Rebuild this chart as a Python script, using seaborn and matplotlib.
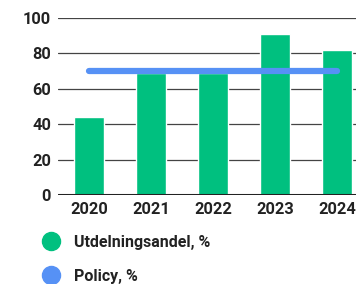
import matplotlib
matplotlib.use('Agg')
import matplotlib.pyplot as plt
import seaborn as sns
import pandas as pd
from matplotlib.lines import Line2D

# data
years = ['2020', '2021', '2022', '2023', '2024']
utdelningsandel = [44, 69, 69, 91, 82]
policy = [70, 70, 70, 70, 70]

green = '#00C07F'
blue = '#5691F5'
text_color = '#222222'

sns.set_theme(style='white')
plt.rcParams['font.family'] = ['Roboto', 'DejaVu Sans']

df = pd.DataFrame({'year': years, 'andel': utdelningsandel, 'policy': policy})

fig = plt.figure(figsize=(3.56, 2.84), dpi=100)
ax = fig.add_axes([58 / 356, (284 - 195) / 284, 298 / 356, 177 / 284])

# grid
for v in [20, 40, 60, 80, 100]:
    ax.axhline(v, color='#444444', lw=0.9, zorder=0)

sns.barplot(data=df, x='year', y='andel', color=green, width=0.48,
            saturation=1, ax=ax, zorder=2)

ax.plot(range(len(years)), df['policy'], color=blue, lw=4.5,
        solid_capstyle='round', zorder=3)

ax.axhline(0, color='#222222', lw=2.2, zorder=4)

ax.set_ylim(0, 100)
ax.set_xlim(-0.5, 4.5 - 12 / 62)
ax.set_yticks([0, 20, 40, 60, 80, 100])
ax.set_xlabel('')
ax.set_ylabel('')
for s in ax.spines.values():
    s.set_visible(False)
ax.tick_params(axis='both', length=0, labelsize=11.8, colors=text_color)
ax.tick_params(axis='y', pad=5)
ax.tick_params(axis='x', pad=5)
for lbl in ax.get_xticklabels() + ax.get_yticklabels():
    lbl.set_fontweight('bold')

handles = [
    Line2D([], [], marker='o', ls='', color=green, markersize=13),
    Line2D([], [], marker='o', ls='', color=blue, markersize=13),
]
leg = fig.legend(handles, ['Utdelningsandel, %', 'Policy, %'],
                 loc='upper left', bbox_to_anchor=(41.4 / 356, 1 - 235 / 284),
                 frameon=False, prop={'weight': 'bold', 'size': 11.5},
                 labelspacing=1.17, handlelength=1.2, handletextpad=0.84,
                 borderaxespad=0, borderpad=0)
for t in leg.get_texts():
    t.set_color(text_color)

fig.savefig('out.png', dpi=100)
